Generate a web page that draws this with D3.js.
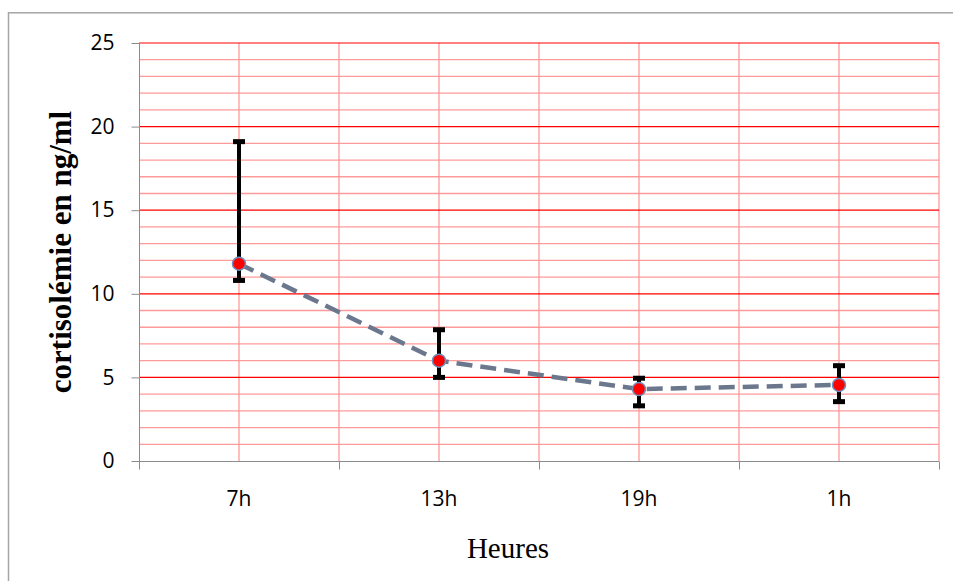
<!DOCTYPE html>
<html><head><meta charset="utf-8">
<script src="https://cdn.jsdelivr.net/npm/d3@7"></script>
<style>html,body{margin:0;padding:0;background:#fff;overflow:hidden;}svg{display:block;}</style>
</head><body>
<svg id="c" width="953" height="581"></svg>
<script>
const categories = ["7h", "13h", "19h", "1h"];
const means = [11.8, 6.0, 4.3, 4.55];
const errHigh = [19.1, 7.85, 4.95, 5.7];
const errLow = [10.8, 5.0, 3.3, 3.55];
const yTicks = [0, 5, 10, 15, 20, 25];
const yTitle = "cortisolémie en ng/ml";
const xTitle = "Heures";

const svg = d3.select("#c");
const L = 139, R = 939, T = 43, B = 461;
const x = d3.scaleBand().domain(categories).range([L, R]).padding(0);
const y = d3.scaleLinear().domain([0, 25]).range([B, T]);
const cx = c => x(c) + x.bandwidth() / 2;

// outer border
svg.append("rect").attr("x", 8.5).attr("y", 12.8).attr("width", 1000).attr("height", 700)
  .attr("fill", "none").attr("stroke", "#a6a6a6").attr("stroke-width", 1.5);

// minor horizontal gridlines
const g = svg.append("g");
g.selectAll("line.minor").data(d3.range(1, 25).filter(v => v % 5 !== 0)).join("line")
  .attr("class", "minor")
  .attr("x1", L).attr("x2", R).attr("y1", d => y(d)).attr("y2", d => y(d))
  .attr("stroke", "#ff9a9a").attr("stroke-width", 1.3);
// vertical gridlines (band centers and edges)
const vx = [];
categories.forEach(c => { vx.push(cx(c)); vx.push(x(c) + x.bandwidth()); });
g.selectAll("line.v").data(vx).join("line")
  .attr("class", "v")
  .attr("x1", d => d).attr("x2", d => d).attr("y1", T).attr("y2", B)
  .attr("stroke", "#ff9a9a").attr("stroke-width", 1.3);
// major gridlines
g.selectAll("line.major").data(yTicks.filter(v => v > 0)).join("line")
  .attr("class", "major")
  .attr("x1", L).attr("x2", R).attr("y1", d => y(d)).attr("y2", d => y(d))
  .attr("stroke", "#ff0000").attr("stroke-width", 1.2);

// y axis
const yAxis = d3.axisLeft(y).tickValues(yTicks).tickSize(8).tickPadding(17);
const ya = svg.append("g").attr("transform", `translate(${L + 0.5},0)`).call(yAxis);
ya.attr("font-size", 21).attr("font-family", "'Open Sans', sans-serif");
ya.select(".domain").attr("stroke", "#8c8c8c").attr("d", `M0,${T}V${B}`);
ya.selectAll(".tick line").attr("stroke", "#8c8c8c");
ya.selectAll(".tick text").attr("fill", "#000");

// x axis
const xa = svg.append("g").attr("transform", `translate(0,${B + 0.5})`);
xa.append("line").attr("x1", L).attr("x2", R).attr("stroke", "#8c8c8c");
const edges = [L].concat(categories.map(c => x(c) + x.bandwidth()));
xa.selectAll("line.xt").data(edges).join("line")
  .attr("class", "xt")
  .attr("x1", d => Math.round(d) + 0.5).attr("x2", d => Math.round(d) + 0.5).attr("y1", 0).attr("y2", 8)
  .attr("stroke", "#8c8c8c");
xa.selectAll("text.xl").data(categories).join("text")
  .attr("class", "xl")
  .attr("x", d => cx(d)).attr("y", 44).attr("text-anchor", "middle")
  .attr("font-family", "'Open Sans', sans-serif").attr("font-size", 21).text(d => d);

// titles
svg.append("text").attr("transform", "translate(71,252) rotate(-90)").attr("text-anchor", "middle")
  .attr("font-family", "'Liberation Serif', serif").attr("font-weight", "bold").attr("font-size", 31).text(yTitle);
svg.append("text").attr("x", 508).attr("y", 558).attr("text-anchor", "middle")
  .attr("font-family", "'Liberation Serif', serif").attr("font-size", 29).text(xTitle);

// dashed line
const line = d3.line().x((d, i) => cx(categories[i])).y(d => y(d));
svg.append("path").datum(means).attr("d", line).attr("fill", "none")
  .attr("stroke", "#6a778c").attr("stroke-width", 4.5).attr("stroke-dasharray", "16,8");

// error bars
const eb = svg.append("g");
categories.forEach((c, i) => {
  eb.append("line").attr("x1", cx(c)).attr("x2", cx(c)).attr("y1", y(errLow[i])).attr("y2", y(errHigh[i]))
    .attr("stroke", "#000").attr("stroke-width", 4);
  [errLow[i], errHigh[i]].forEach(v => {
    eb.append("rect").attr("x", cx(c) - 6).attr("y", y(v) - 2.5).attr("width", 12).attr("height", 5).attr("fill", "#000");
  });
});

// markers
svg.append("g").selectAll("circle").data(means).join("circle")
  .attr("cx", (d, i) => cx(categories[i])).attr("cy", d => y(d)).attr("r", 6.5)
  .attr("fill", "#ff0000").attr("stroke", "#6f8fbf").attr("stroke-width", 1.5);
</script>
</body></html>
